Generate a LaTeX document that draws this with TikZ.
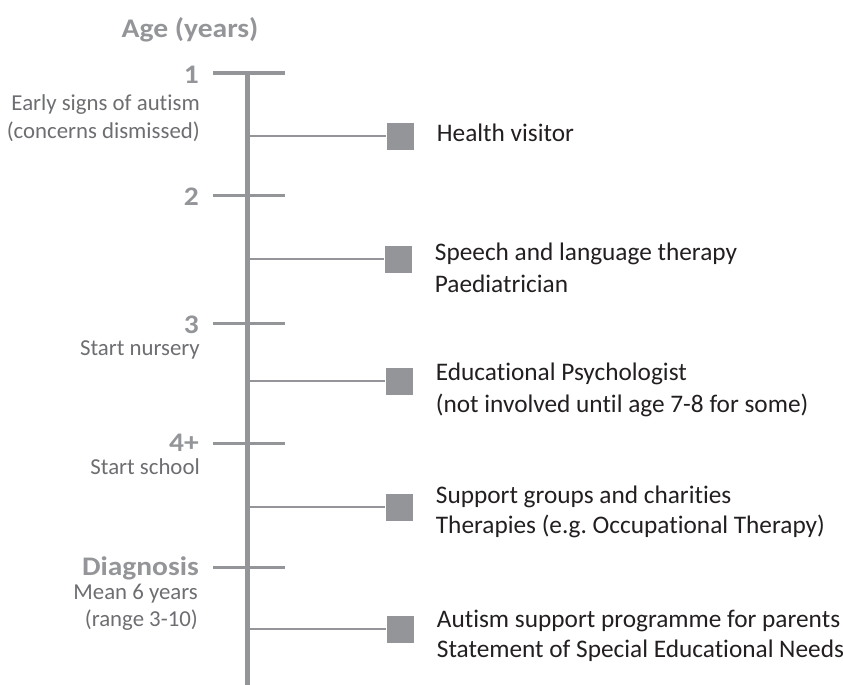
\documentclass[tikz,border=0pt]{standalone}
\usepackage{fontspec}
\setmainfont{Carlito}[Ligatures=NoCommon, BoldFeatures={FakeStretch=1.1}]
\frenchspacing
\usetikzlibrary{positioning}

\definecolor{axisgray}{RGB}{147,149,152}
\definecolor{notegray}{RGB}{109,110,113}
\definecolor{textblack}{RGB}{35,31,32}

\tikzset{
  agelabel/.style={font=\bfseries\fontsize{26.8}{30}\selectfont, text=axisgray, anchor=east, inner sep=0pt},
  agenote/.style={font=\fontsize{22.8}{28}\selectfont, text=notegray, anchor=east, align=right, inner sep=0pt},
  servicebox/.style={fill=axisgray, minimum size=27pt, inner sep=0pt},
  servicetext/.style={font=\fontsize{25.3}{32}\selectfont, text=textblack, align=left, inner sep=0pt, right=23pt of #1},
  branch/.style={axisgray, line width=1.6pt}
}

\begin{document}
\begin{tikzpicture}[x=1pt,y=-1pt]
\useasboundingbox (0,0) rectangle (843,685);

%title
\node[font=\bfseries\fontsize{26.9}{30}\selectfont, text=axisgray, inner sep=0pt] (title) at (190,30) {Age (years)};

%draw vertical axis
\coordinate (top) at (247,72);
\coordinate (bottom) at (247,685);
\draw[axisgray, line width=5pt] (top) -- (bottom);

%draw ticks
\foreach \y in {73,195,323,443,567}
\draw[axisgray, line width=3pt] (213,\y) -- (285,\y);

%ages and notes on the left
\node[agelabel] (age1) at (199,75) {1};
\node[agenote] (note1) at (200,118) {Early signs of autism\\(concerns dismissed)};
\node[agelabel] (age2) at (199,197) {2};
\node[agelabel] (age3) at (199,325) {3};
\node[agenote] (note3) at (200,350) {Start nursery};
\node[agelabel] (age4) at (199,443) {4+};
\node[agenote] (note4) at (200,467) {Start school};
\node[agelabel] (diag) at (199,568) {Diagnosis};
\node[agenote, font=\fontsize{22.8}{27}\selectfont] (notediag) at (198,607) {Mean 6 years\\(range 3-10)};

%branch points on the axis
\foreach \y/\n in {136/b1,259/b2,381/b3,507/b4,629/b5}
\coordinate (\n) at (247,\y);

%services on the right
\node[servicebox] (hv) at (400,136) {};
\node[servicebox] (slt) at (398,259) {};
\node[servicebox] (ep) at (399,381) {};
\node[servicebox] (sg) at (399,507) {};
\node[servicebox] (asp) at (400,629) {};

\foreach \n/\s in {b1/hv,b2/slt,b3/ep,b4/sg,b5/asp}
\draw[branch] (\n) -- (\s.west);

\node[servicetext=hv, yshift=3pt] (hvtext) {Health visitor};
\node[servicetext=slt, yshift=-9pt] (slttext) {Speech and language therapy\\Paediatrician};
\node[servicetext=ep, yshift=-9pt] (eptext) {Educational Psychologist\\(not involved until age 7-8 for some)};
\node[servicetext=sg, yshift=-5pt, font=\fontsize{25.3}{30}\selectfont] (sgtext) {Support groups and charities\\Therapies (e.g. Occupational Therapy)};
\node[servicetext=asp, yshift=-6.5pt, font=\fontsize{25.3}{30}\selectfont] (asptext) {Autism support programme for parents\\Statement of Special Educational Needs};

\end{tikzpicture}
\end{document}
